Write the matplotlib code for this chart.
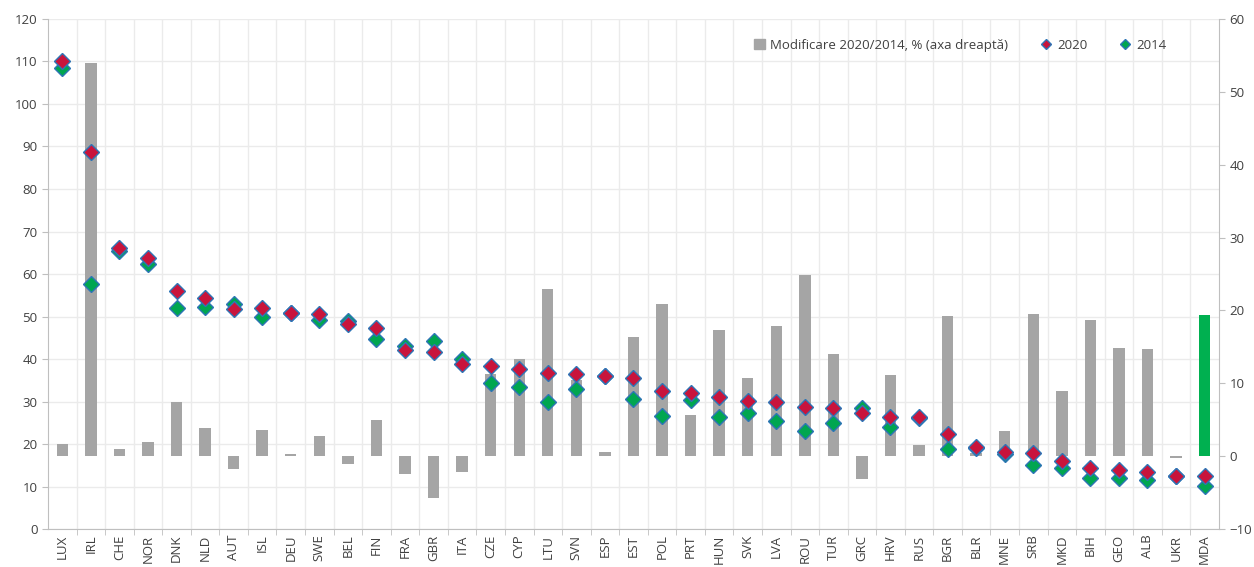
#!/usr/bin/env python3
"""Price levels 2014 vs 2020 with change bars on a secondary axis."""

import matplotlib.pyplot as plt
import numpy as np

countries = ["LUX", "IRL", "CHE", "NOR", "DNK", "NLD", "AUT", "ISL", "DEU", "SWE",
             "BEL", "FIN", "FRA", "GBR", "ITA", "CZE", "CYP", "LTU", "SVN", "ESP",
             "EST", "POL", "PRT", "HUN", "SVK", "LVA", "ROU", "TUR", "GRC", "HRV",
             "RUS", "BGR", "BLR", "MNE", "SRB", "MKD", "BIH", "GEO", "ALB", "UKR", "MDA"]

val_2020 = [110.2, 88.8, 66.1, 63.7, 55.9, 54.3, 51.8, 51.9, 50.9, 50.7,
            48.3, 47.3, 42.1, 41.6, 38.9, 38.4, 37.6, 36.7, 36.5, 36.1,
            35.6, 32.4, 32.1, 31.0, 30.2, 29.8, 28.8, 28.4, 27.2, 26.4,
            26.4, 22.4, 19.2, 18.1, 17.9, 15.9, 14.4, 14.0, 13.3, 12.4, 12.4]

val_2014 = [108.4, 57.6, 65.3, 62.4, 52.1, 52.2, 52.9, 50.0, 50.9, 49.2,
            48.9, 44.8, 43.1, 44.2, 39.9, 34.3, 33.3, 29.8, 33.0, 36.1,
            30.6, 26.6, 30.4, 26.4, 27.3, 25.4, 23.1, 24.9, 28.4, 23.9,
            26.1, 18.9, 19.0, 17.6, 15.0, 14.4, 11.9, 12.1, 11.5, 12.4, 10.2]

change_pct = [1.6, 53.9, 1.0, 1.9, 7.4, 3.8, -1.7, 3.6, 0.3, 2.8,
              -1.1, 5.0, -2.4, -5.7, -2.2, 11.3, 13.3, 23.0, 10.4, 0.6,
              16.3, 20.9, 5.6, 17.3, 10.7, 17.8, 24.8, 14.0, -3.1, 11.2,
              1.5, 19.3, 0.5, 3.4, 19.5, 9.0, 18.7, 14.9, 14.7, -0.2, 19.4]

GREY = "#A5A5A5"
RED = "#C8143C"
GREEN = "#00A650"
EDGE = "#2E75B6"
TXT = "#404040"

plt.rcParams["font.family"] = ["Open Sans", "DejaVu Sans"]
plt.rcParams["font.size"] = 9.5


def main():
    x = np.arange(len(countries))
    fig = plt.figure(figsize=(12.54, 5.67), dpi=100)
    ax = fig.add_axes([0.0383, 0.067, 0.972 - 0.0383, 0.9665 - 0.067])
    ax2 = ax.twinx()
    ax3 = ax.twinx()

    # left axis: grid
    ax.set_xlim(-0.5, len(countries) - 0.5)
    ax.set_ylim(0, 120)
    ax.set_yticks(np.arange(0, 121, 10))
    ax.set_xticks(x)
    ax.set_xticklabels(countries, rotation=90)
    ax.set_xticks(x[:-1] + 0.5, minor=True)
    ax.tick_params(axis="x", which="major", length=0, pad=4, colors=TXT)
    ax.tick_params(axis="x", which="minor", length=4, color="#BFBFBF")
    ax.tick_params(axis="y", length=4, color="#BFBFBF", labelcolor=TXT)
    ax.grid(axis="y", color="#EBEBEB", linewidth=1)
    ax.grid(axis="x", which="minor", color="#EBEBEB", linewidth=1)
    ax.set_axisbelow(True)
    for s in ["top", "right"]:
        ax.spines[s].set_visible(False)
    ax.spines["left"].set_color("#BFBFBF")
    ax.spines["bottom"].set_color("#BFBFBF")

    # right axis: change bars
    colors = [GREY] * len(countries)
    colors[-1] = "#00B050"
    ax2.bar(x, change_pct, width=0.4, color=colors)
    ax2.set_ylim(-10, 60)
    ax2.set_yticks(np.arange(-10, 61, 10))
    ax2.tick_params(axis="y", length=4, color="#BFBFBF", labelcolor=TXT)
    for s in ["top", "left", "bottom"]:
        ax2.spines[s].set_visible(False)
    ax2.spines["right"].set_color("#BFBFBF")

    # markers on top
    ax3.set_ylim(0, 120)
    ax3.axis("off")
    m14, = ax3.plot(x, val_2014, "D", color=GREEN, markeredgecolor=EDGE,
                    markeredgewidth=1, markersize=8.5, linestyle="none")
    m20, = ax3.plot(x, val_2020, "D", color=RED, markeredgecolor=EDGE,
                    markeredgewidth=1, markersize=8.5, linestyle="none")

    bar_handle = plt.Rectangle((0, 0), 1, 1, color=GREY)
    leg = ax3.legend([bar_handle, m20, m14],
                     ["Modificare 2020/2014, % (axa dreaptă)", "2020", "2014"],
                     loc="upper right", bbox_to_anchor=(0.965, 0.985), ncol=3,
                     frameon=False, handlelength=0.8, handletextpad=0.4,
                     columnspacing=2.5, markerscale=0.6, fontsize=9.5)
    for t in leg.get_texts():
        t.set_color(TXT)

    fig.savefig("out.png", dpi=100)


if __name__ == "__main__":
    main()
